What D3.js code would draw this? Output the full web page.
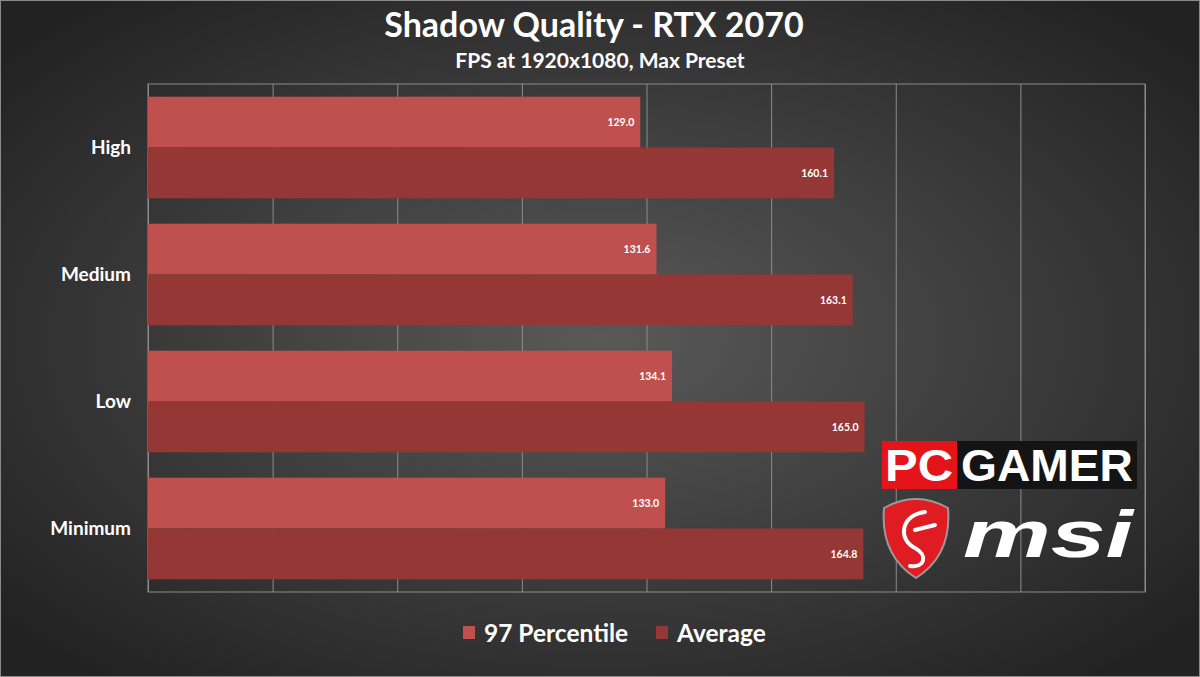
<!DOCTYPE html>
<html lang="en">
<head>
  <meta charset="UTF-8">
  <title>Shadow Quality - RTX 2070</title>
  <script src="https://d3js.org/d3.v7.min.js"></script>
  <style>
    html, body { margin: 0; padding: 0; background: #2b2b2b; }
    svg { display: block; font-family: Lato, "Open Sans", sans-serif; }
  </style>
</head>
<body>
  <svg id="chart" width="1200" height="677"></svg>

  <script>
    const categories = ["High", "Medium", "Low", "Minimum"];
    const seriesNames = ["97 Percentile", "Average"];
    const percentile97 = [129.0, 131.6, 134.1, 133.0];
    const average = [160.1, 163.1, 165.0, 164.8];
    const axisMin = 50, axisMax = 210, axisStep = 20;
    const colors = ["#c0504d", "#953735"];

    const svg = d3.select("#chart");
    const W = 1200, H = 677;
    const margin = { top: 84, right: 55, bottom: 85, left: 148 };
    const width = W - margin.left - margin.right;
    const height = H - margin.top - margin.bottom;

    // background
    const defs = svg.append("defs");
    const bg = defs.append("radialGradient").attr("id", "bg")
      .attr("cx", "50%").attr("cy", "50%").attr("r", "65%");
    bg.append("stop").attr("offset", "0%").attr("stop-color", "#595959");
    bg.append("stop").attr("offset", "100%").attr("stop-color", "#222222");
    svg.append("rect").attr("width", W).attr("height", H).attr("fill", "url(#bg)");
    svg.append("rect").attr("x", 0.5).attr("y", 0.5).attr("width", W - 1).attr("height", H - 1)
      .attr("fill", "none").attr("stroke", "#8a8a8a").attr("stroke-width", 1);

    // titles
    svg.append("text").attr("x", 594).attr("y", 37).attr("text-anchor", "middle")
      .attr("fill", "#fff").attr("font-weight", 700).attr("font-size", 34)
      .text("Shadow Quality - RTX 2070");
    svg.append("text").attr("x", 600).attr("y", 68).attr("text-anchor", "middle")
      .attr("fill", "#fff").attr("font-weight", 700).attr("font-size", 21)
      .text("FPS at 1920x1080, Max Preset");

    const g = svg.append("g").attr("transform", `translate(${margin.left},${margin.top})`);

    const x = d3.scaleLinear().domain([axisMin, axisMax]).range([0, width]);
    const y0 = d3.scaleBand().domain(categories).range([0, height]).paddingInner(0.2).paddingOuter(0.1);
    const y1 = d3.scaleBand().domain(seriesNames).range([0, y0.bandwidth()]);

    // gridlines
    g.append("g")
      .call(d3.axisBottom(x).tickValues(d3.range(axisMin, axisMax + 1, axisStep)).tickSize(height).tickFormat(""))
      .call(a => a.select(".domain").remove())
      .call(a => a.selectAll("line").attr("stroke", "#8c8c8c").attr("stroke-width", 1));

    // plot frame
    g.append("rect").attr("width", width).attr("height", height)
      .attr("fill", "none").attr("stroke", "#8c8c8c").attr("stroke-width", 1);

    const rows = categories.map((c, i) => ({
      cat: c,
      vals: [{ s: seriesNames[0], v: percentile97[i] }, { s: seriesNames[1], v: average[i] }]
    }));

    const grp = g.selectAll(".cat").data(rows).enter().append("g")
      .attr("transform", d => `translate(0,${y0(d.cat)})`);

    grp.selectAll("rect").data(d => d.vals).enter().append("rect")
      .attr("x", 0)
      .attr("y", d => y1(d.s))
      .attr("width", d => x(d.v))
      .attr("height", y1.bandwidth())
      .attr("fill", (d, i) => colors[i]);

    grp.selectAll(".val").data(d => d.vals).enter().append("text")
      .attr("x", d => x(d.v) - 6)
      .attr("y", d => y1(d.s) + y1.bandwidth() / 2 + 4)
      .attr("text-anchor", "end")
      .attr("fill", "#fff").attr("font-weight", 700).attr("font-size", 10.5)
      .text(d => d.v.toFixed(1));

    // category axis
    const yAxis = g.append("g").call(d3.axisLeft(y0).tickSize(0).tickPadding(17));
    yAxis.select(".domain").remove();
    yAxis.selectAll("text").attr("fill", "#fff").attr("font-weight", 700).attr("font-size", 19)
      .attr("font-family", "Lato, sans-serif");

    // legend
    const legend = svg.append("g").attr("transform", "translate(463,633)");
    const lx = [0, 193];
    seriesNames.forEach((s, i) => {
      const lg = legend.append("g").attr("transform", `translate(${lx[i]},0)`);
      lg.append("rect").attr("x", 0).attr("y", -7).attr("width", 12).attr("height", 13).attr("fill", colors[i]);
      lg.append("text").attr("x", 21).attr("y", 9).attr("fill", "#fff")
        .attr("font-weight", 700).attr("font-size", 24.5).text(s);
    });

    // logos
    const logo = svg.append("g");
    logo.append("rect").attr("x", 882).attr("y", 441).attr("width", 75).attr("height", 48).attr("fill", "#e5141b");
    logo.append("rect").attr("x", 957).attr("y", 441).attr("width", 180).attr("height", 48).attr("fill", "#141414");
    logo.append("text").attr("x", 919).attr("y", 481).attr("text-anchor", "middle")
      .attr("fill", "#fff").attr("font-family", "Liberation Sans, Arial, sans-serif")
      .attr("font-weight", 700).attr("font-size", 44).attr("textLength", 68).attr("lengthAdjust", "spacingAndGlyphs").text("PC");
    logo.append("text").attr("x", 1047).attr("y", 481).attr("text-anchor", "middle")
      .attr("fill", "#fff").attr("font-family", "Liberation Sans, Arial, sans-serif")
      .attr("font-weight", 700).attr("font-size", 44).attr("textLength", 172).attr("lengthAdjust", "spacingAndGlyphs").text("GAMER");
    logo.append("path")
      .attr("d", "M884,508 Q916,490 948,508 Q952,555 916,578 Q880,555 884,508 Z")
      .attr("fill", "#e11b22").attr("stroke", "#9a9a9a").attr("stroke-width", 2);
    logo.append("path")
      .attr("d", "M925,512 C900,515 898,540 915,548 C928,555 925,568 910,566 M915,530 L935,525")
      .attr("fill", "none").attr("stroke", "#fff").attr("stroke-width", 4).attr("stroke-linecap", "round");
    logo.append("text").attr("x", 1048).attr("y", 557).attr("text-anchor", "middle")
      .attr("fill", "#fff").attr("font-family", "Liberation Sans, Arial, sans-serif")
      .attr("font-weight", 700).attr("font-style", "italic").attr("font-size", 66)
      .attr("textLength", 170).attr("lengthAdjust", "spacingAndGlyphs").text("msi");
  </script>
</body>
</html>
